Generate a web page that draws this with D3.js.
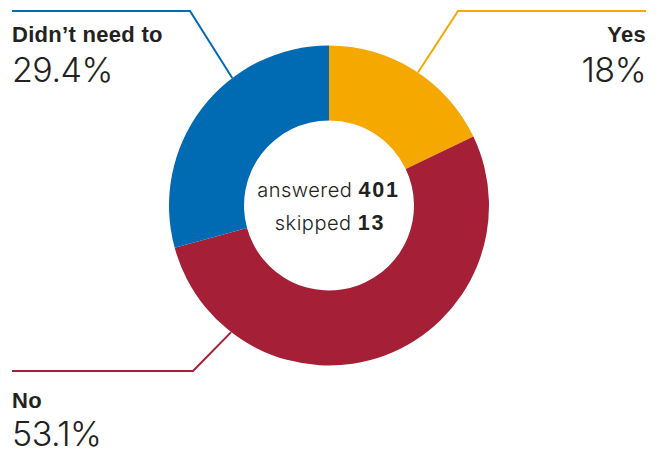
<!DOCTYPE html>
<html>
<head>
<meta charset="utf-8">
<script src="https://cdn.jsdelivr.net/npm/d3@7"></script>
<style>
  html, body { margin: 0; padding: 0; background: #fff; }
  svg { display: block; }
  .lbl { font-family: "Liberation Sans", Arial, sans-serif; font-weight: 700; fill: #222; }
  .pct { font-family: Inter, "Liberation Sans", sans-serif; font-weight: 300; fill: #222; }
  .mid { font-family: Inter, "Liberation Sans", sans-serif; font-weight: 300; fill: #222; }
  .mid .num { font-family: "Liberation Sans", Arial, sans-serif; font-weight: 700; font-size: 21.5px; letter-spacing: 1.8px; }
</style>
</head>
<body>
<svg id="chart" width="661" height="452"></svg>
<script>
// Survey answers, in drawing order clockwise from 12 o'clock
const categories = ["Yes", "No", "Didn’t need to"];
const percentages = [18, 53.1, 29.4];
const percentLabels = ["18%", "53.1%", "29.4%"];
const colors = ["#F5A800", "#A51F36", "#006AB2"];
const answered = 401;
const skipped = 13;

// Callout layout per slice: where the leader meets the ring (degrees clockwise
// from north), the elbow, the end of the horizontal run and the label side.
const callouts = [
  { angle: 33.8,  elbowX: 458, lineY: 11,  endX: 646, anchor: "end",   textX: 646, titleY: 42,  pctY: 82 },
  { angle: 217.7, elbowX: 193, lineY: 371, endX: 12,  anchor: "start", textX: 12,  titleY: 408, pctY: 446 },
  { angle: 322.8, elbowX: 190, lineY: 11,  endX: 12,  anchor: "start", textX: 12,  titleY: 42,  pctY: 82 }
];

const svg = d3.select("#chart");
const cx = 329, cy = 205.5;
const outerR = 160, innerR = 85;

const pie = d3.pie().sort(null).value(d => d);
const arc = d3.arc().innerRadius(innerR).outerRadius(outerR);
const arcs = pie(percentages);

const g = svg.append("g").attr("transform", `translate(${cx},${cy})`);

g.selectAll("path.slice")
  .data(arcs)
  .join("path")
  .attr("class", "slice")
  .attr("d", arc)
  .attr("fill", (d, i) => colors[i]);

// Leader lines and labels
const rad = a => a * Math.PI / 180;
callouts.forEach((c, i) => {
  const px = cx + outerR * Math.sin(rad(c.angle));
  const py = cy - outerR * Math.cos(rad(c.angle));
  svg.append("path")
    .attr("d", d3.line()([[px, py], [c.elbowX, c.lineY], [c.endX, c.lineY]]))
    .attr("fill", "none")
    .attr("stroke", colors[i])
    .attr("stroke-width", 2);
  svg.append("text")
    .attr("class", "lbl")
    .attr("x", c.textX).attr("y", c.titleY)
    .attr("text-anchor", c.anchor)
    .attr("font-size", 22)
    .attr("letter-spacing", 0.3)
    .text(categories[i]);
  svg.append("text")
    .attr("class", "pct")
    .attr("x", c.textX).attr("y", c.pctY)
    .attr("text-anchor", c.anchor)
    .attr("font-size", 34)
    .attr("letter-spacing", -0.5)
    .text(percentLabels[i]);
});

// Centre summary
const mid = svg.append("g").attr("class", "mid").attr("text-anchor", "middle");
const t1 = mid.append("text").attr("x", 328.5).attr("y", 196.5).attr("font-size", 20).attr("letter-spacing", 0.5);
t1.append("tspan").text("answered ");
t1.append("tspan").attr("class", "num").text(answered);
const t2 = mid.append("text").attr("x", 330).attr("y", 230).attr("font-size", 20).attr("letter-spacing", 0.5);
t2.append("tspan").text("skipped ");
t2.append("tspan").attr("class", "num").text(skipped);
</script>
</body>
</html>
